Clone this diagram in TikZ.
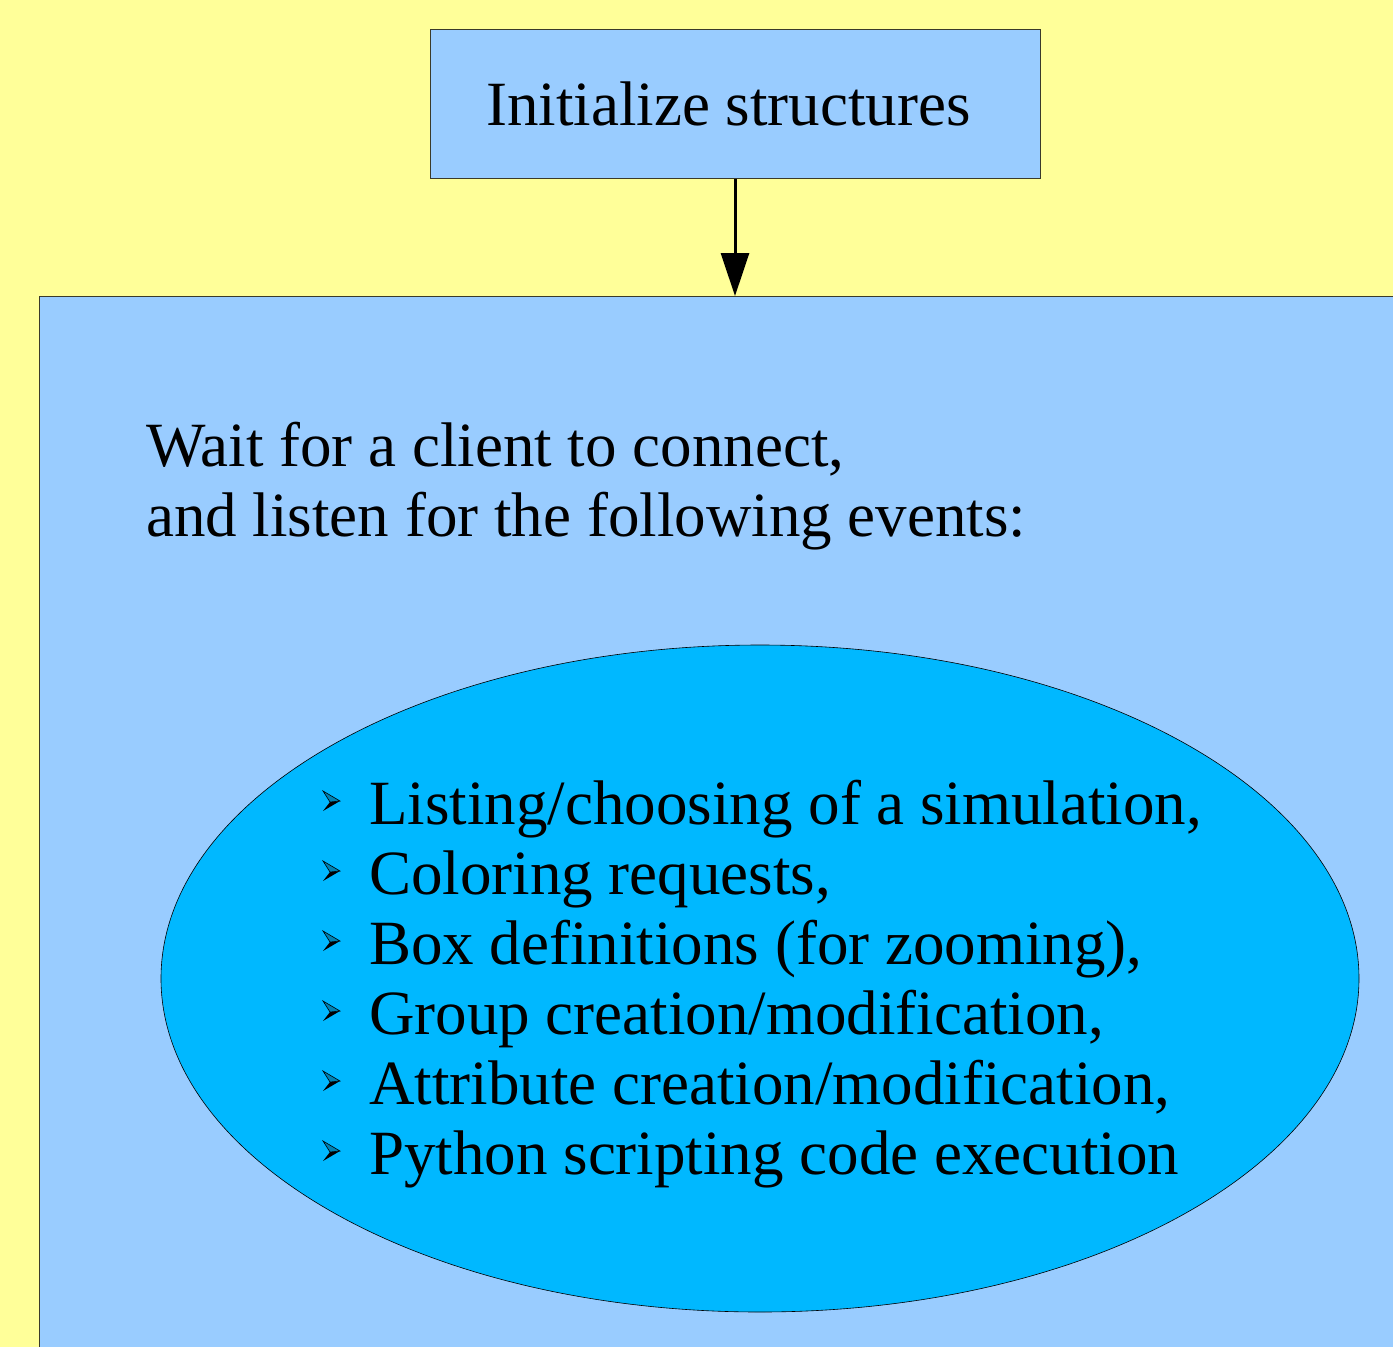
\documentclass[tikz,border=0pt]{standalone}
\usepackage{fontspec}
\setmainfont{Liberation Serif}
\usetikzlibrary{arrows.meta,shapes.geometric}
\definecolor{bgyellow}{HTML}{FFFF99}
\definecolor{boxblue}{HTML}{99CCFF}
\definecolor{ovalblue}{HTML}{00B8FF}
\definecolor{edgegray}{HTML}{3A3A2A}
\tikzset{
  x=1pt, y=-1pt,
  every node/.style={font=\fontsize{63}{70}\selectfont},
  stepbox/.style={draw=edgegray, line width=1pt, fill=boxblue, rectangle, inner sep=0pt},
  eventoval/.style={draw=black, line width=0.6pt, fill=ovalblue, ellipse, inner sep=0pt},
  label/.style={inner sep=0pt, anchor=base west, text=black},
  flow/.style={draw=black, line width=3pt, -{Triangle[length=43pt,width=28pt]}},
}
\begin{document}
\begin{tikzpicture}
  \useasboundingbox (0,0) rectangle (1393,1347);
  \clip (0,0) rectangle (1393,1347);
  \fill[bgyellow] (0,0) rectangle (1393,1347);

  % first step
  \node[stepbox, minimum width=610pt, minimum height=149pt] (init) at (735,103.5) {Initialize structures\kern13pt};

  % main loop box, running past the page edges
  \node[stepbox, minimum width=1461pt, minimum height=1104pt, anchor=north west] (main) at (39,296) {};

  \draw[flow] (init.south) -- (init.south |- main.north);

  \node[label] (wait1) at (146,466) {Wait for a client to connect,};
  \node[label] (wait2) at (146,536) {and listen for the following events:};

  % events oval
  \node[eventoval, minimum width=1198pt, minimum height=667pt] (events) at (760,978.5) {};

  \foreach \txt [count=\i] in {
      {Listing/choosing of a simulation,},
      {Coloring requests,},
      {Box definitions (for zooming),},
      {Group creation/modification,},
      {Attribute creation/modification,},
      {Python scripting code execution}} {
    \pgfmathsetmacro{\b}{824+70*(\i-1)}
    \node[label] (item\i) at (369,\b) {\txt};
    % arrowhead bullet
    \fill[black] (340,\b-23) -- (330,\b-22) -- (323,\b-13) -- cycle;
    \filldraw[fill=ovalblue!70!black, draw=black, line width=0.6pt]
      (340,\b-23) -- (323,\b-33) -- (330,\b-22) -- cycle;
  }
\end{tikzpicture}
\end{document}
